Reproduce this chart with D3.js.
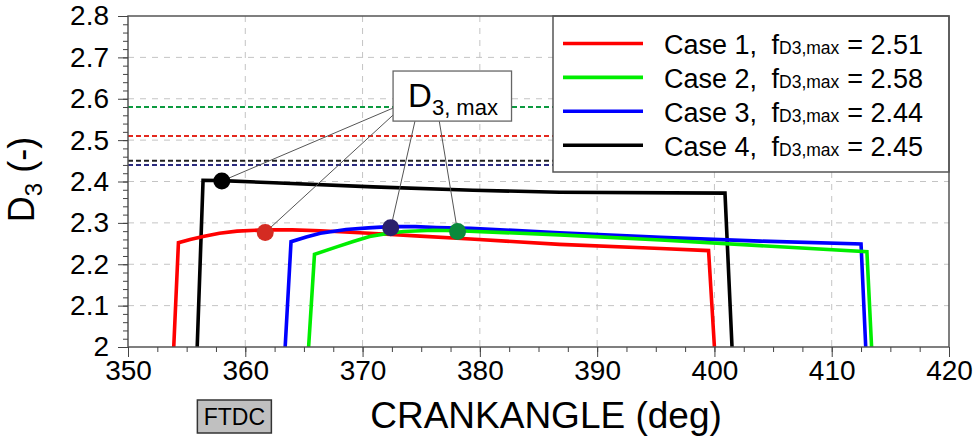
<!DOCTYPE html>
<html>
<head>
<meta charset="utf-8">
<script src="https://cdn.jsdelivr.net/npm/d3@7"></script>
<style>
  body { margin: 0; background: #fff; }
  text { font-family: "Liberation Sans", Arial, sans-serif; fill: #000; }
</style>
</head>
<body>
<div id="container"></div>
<script>
// D3 shape factor vs crank angle, 4 cases

// ---- data ----
var caseNames = ["Case 1", "Case 2", "Case 3", "Case 4"];
var fMax = [2.51, 2.58, 2.44, 2.45];

var case1X = [353.9, 354.3, 355.3, 356.4, 357.8, 359.3, 361.7, 364.0, 366.4, 370.6, 374.9, 379.2, 386.8, 395.4, 399.5, 400.0];
var case1Y = [2.0, 2.252, 2.260, 2.267, 2.275, 2.280, 2.283, 2.283, 2.281, 2.275, 2.268, 2.261, 2.248, 2.238, 2.233, 2.0];

var case2X = [365.4, 365.9, 367.8, 369.2, 370.6, 372.0, 373.5, 376.0, 378.1, 386.8, 395.4, 403.9, 413.0, 413.4];
var case2Y = [2.0, 2.224, 2.242, 2.255, 2.267, 2.274, 2.279, 2.282, 2.281, 2.271, 2.2585, 2.245, 2.2305, 2.0];

var case3X = [363.4, 363.9, 365.2, 366.4, 368.6, 370.5, 372.3, 374.5, 376.3, 379.2, 386.8, 395.4, 403.9, 412.5, 412.9];
var case3Y = [2.0, 2.2545, 2.266, 2.275, 2.284, 2.288, 2.291, 2.291, 2.289, 2.287, 2.276, 2.265, 2.256, 2.249, 2.0];

var case4X = [355.9, 356.4, 358.0, 362.4, 370.9, 379.4, 386.8, 400.9, 401.5];
var case4Y = [2.0, 2.403, 2.402, 2.397, 2.387, 2.379, 2.374, 2.372, 2.0];

// D3,max markers (same case order)
var dotX = [361.7, 378.1, 372.4, 358.0];
var dotY = [2.277, 2.279, 2.288, 2.401];

var xTicks = [350, 360, 370, 380, 390, 400, 410, 420];
var yTicks = [2.0, 2.1, 2.2, 2.3, 2.4, 2.5, 2.6, 2.7, 2.8];
var yTickLabels = ["2", "2.1", "2.2", "2.3", "2.4", "2.5", "2.6", "2.7", "2.8"];

// ---- styles ----
var lineColors = ["#ff0000", "#00ee00", "#0000ff", "#000000"];
var dashColors = ["#e3281e", "#0c9a40", "#2a2a7e", "#222222"];
var dotColors = ["#d42b22", "#0a8a3c", "#2b1f6b", "#000000"];

var margin = {top: 16, right: 26, bottom: 94, left: 128},
    width = 975 - margin.left - margin.right,
    height = 441 - margin.top - margin.bottom;

var svg = d3.select("#container").append("svg")
    .attr("width", 975)
    .attr("height", 441)
  .append("g")
    .attr("transform", "translate(" + margin.left + "," + margin.top + ")");

var x = d3.scaleLinear().domain([350, 420]).range([0, width]);
var y = d3.scaleLinear().domain([2, 2.8]).range([height, 0]);

// gridlines
svg.append("g")
    .selectAll("line.gx")
    .data(xTicks.slice(1, -1))
  .enter().append("line")
    .attr("x1", function(d) { return x(d); })
    .attr("x2", function(d) { return x(d); })
    .attr("y1", 0).attr("y2", height)
    .style("stroke", "#c4c4c4")
    .style("stroke-dasharray", "6,6");

svg.append("g")
    .selectAll("line.gy")
    .data(yTicks.slice(1, -1))
  .enter().append("line")
    .attr("y1", function(d) { return y(d); })
    .attr("y2", function(d) { return y(d); })
    .attr("x1", 0).attr("x2", width)
    .style("stroke", "#c4c4c4")
    .style("stroke-dasharray", "6,6");

// dashed f_D3,max lines
svg.append("g")
    .selectAll("line")
    .data(fMax)
  .enter().append("line")
    .attr("x1", 0).attr("x2", width)
    .attr("y1", function(d) { return y(d); })
    .attr("y2", function(d) { return y(d); })
    .style("stroke", function(d, i) { return dashColors[i]; })
    .style("stroke-width", 2)
    .style("stroke-dasharray", "5,3");

// curves
var series = [
  {xs: case1X, ys: case1Y},
  {xs: case2X, ys: case2Y},
  {xs: case3X, ys: case3Y},
  {xs: case4X, ys: case4Y}
];

var line = d3.line()
    .x(function(d) { return x(d[0]); })
    .y(function(d) { return y(d[1]); });

// draw black first, then red, blue, green on top
[3, 0, 2, 1].forEach(function(i) {
  var pts = series[i].xs.map(function(v, k) { return [v, series[i].ys[k]]; });
  svg.append("path")
      .datum(pts)
      .attr("d", line)
      .style("fill", "none")
      .style("stroke", lineColors[i])
      .style("stroke-width", 3.6)
      .style("stroke-linejoin", "miter");
});

// annotation box (in data units)
var boxX = [372.6, 382.7], boxY = [2.667, 2.546];
var bx0 = x(boxX[0]), bx1 = x(boxX[1]), by0 = y(boxY[0]), by1 = y(boxY[1]);
var bw = bx1 - bx0, bh = by1 - by0;

// leader start points on the box, per case
var leadStart = [
  [bx0, by0 + bh * 0.88],
  [bx0 + bw * 0.39, by1],
  [bx0 + bw * 0.185, by1],
  [bx0, by0 + bh * 0.74]
];

svg.append("g")
    .selectAll("line")
    .data(dotX)
  .enter().append("line")
    .attr("x1", function(d, i) { return leadStart[i][0]; })
    .attr("y1", function(d, i) { return leadStart[i][1]; })
    .attr("x2", function(d) { return x(d); })
    .attr("y2", function(d, i) { return y(dotY[i]); })
    .style("stroke", "#555")
    .style("stroke-width", 1);

svg.append("g")
    .selectAll("circle")
    .data(dotX)
  .enter().append("circle")
    .attr("cx", function(d) { return x(d); })
    .attr("cy", function(d, i) { return y(dotY[i]); })
    .attr("r", 8.5)
    .style("fill", function(d, i) { return dotColors[i]; });

svg.append("rect")
    .attr("x", bx0).attr("y", by0)
    .attr("width", bw).attr("height", bh)
    .style("fill", "#fff")
    .style("stroke", "#666")
    .style("stroke-width", 1.3);

var lab = svg.append("text")
    .attr("x", bx0 + 15)
    .attr("y", by0 + 36)
    .style("font-size", "33px")
    .text("D");
lab.append("tspan")
    .attr("dy", 8)
    .style("font-size", "22px")
    .text("3, max");

// legend
var legX = width - 396, legW = 396, legH = 156;
var leg = svg.append("g").attr("transform", "translate(" + legX + ",0)");
leg.append("rect")
    .attr("width", legW).attr("height", legH)
    .style("fill", "#fff")
    .style("stroke", "#555")
    .style("stroke-width", 1.5);

caseNames.forEach(function(name, i) {
  var ly = 27.5 + i * 33.9;
  leg.append("line")
      .attr("x1", 10).attr("x2", 90)
      .attr("y1", ly).attr("y2", ly)
      .style("stroke", lineColors[i])
      .style("stroke-width", 3.6);
  var t = leg.append("text")
      .attr("x", 111)
      .attr("y", ly + 10.5)
      .style("font-size", "27px");
  t.append("tspan").text(name + ",");
  t.append("tspan").attr("x", 218.5).text("f");
  t.append("tspan").style("font-size", "17.5px").text("D3,max");
  t.append("tspan").attr("dx", 8).text("= " + fMax[i].toFixed(2));
});

// frame
svg.append("rect")
    .attr("width", width).attr("height", height)
    .style("fill", "none")
    .style("stroke", "#555")
    .style("stroke-width", 1.5);

// axes
var xMinor = d3.range(350, 420.01, 2.5);
var yMinor = d3.range(2, 2.801, 0.02);

svg.append("g")
    .attr("class", "x axis")
    .attr("transform", "translate(0," + height + ")")
    .call(d3.axisBottom(x).tickValues(xMinor).tickSize(5).tickFormat(""))
    .call(function(g) { g.select(".domain").remove(); g.selectAll("line").style("stroke", "#444"); });

svg.append("g")
    .attr("class", "x axis")
    .attr("transform", "translate(0," + height + ")")
    .call(d3.axisBottom(x).tickValues(xTicks).tickSize(10).tickPadding(3).tickFormat(d3.format("d")))
    .call(function(g) {
      g.select(".domain").remove();
      g.selectAll("line").style("stroke", "#444");
      g.selectAll("text").style("font-size", "28px").style("font-family", "Liberation Sans, Arial, sans-serif").style("fill", "#000");
    });

svg.append("g")
    .attr("class", "y axis")
    .call(d3.axisLeft(y).tickValues(yMinor).tickSize(5).tickFormat(""))
    .call(function(g) { g.select(".domain").remove(); g.selectAll("line").style("stroke", "#444"); });

svg.append("g")
    .attr("class", "y axis")
    .call(d3.axisLeft(y).tickValues(yTicks).tickSize(10).tickPadding(9)
      .tickFormat(function(d, i) { return yTickLabels[i]; }))
    .call(function(g) {
      g.select(".domain").remove();
      g.selectAll("line").style("stroke", "#444");
      g.selectAll("text").style("font-size", "28px").style("font-family", "Liberation Sans, Arial, sans-serif").style("fill", "#000");
    });

// axis titles
svg.append("text")
    .attr("x", 418)
    .attr("y", height + 81)
    .style("text-anchor", "middle")
    .style("font-size", "37px")
    .text("CRANKANGLE (deg)");

var yt = svg.append("text")
    .attr("transform", "translate(" + (-94) + "," + (height / 2 - 2) + ") rotate(-90)")
    .style("text-anchor", "middle")
    .style("font-size", "36px");
yt.append("tspan").text("D");
yt.append("tspan").attr("dy", 8).style("font-size", "24px").text("3");
yt.append("tspan").attr("dy", -8).text(" (-)");

// FTDC box
var ftdc = svg.append("g").attr("transform", "translate(" + (x(356) - 1) + "," + (height + 53) + ")");
ftdc.append("rect")
    .attr("width", 74).attr("height", 33)
    .style("fill", "#c0c0c0")
    .style("stroke", "#333")
    .style("stroke-width", 1.5);
ftdc.append("text")
    .attr("x", 37).attr("y", 25)
    .style("text-anchor", "middle")
    .style("font-size", "23px")
    .text("FTDC");
</script>
</body>
</html>
